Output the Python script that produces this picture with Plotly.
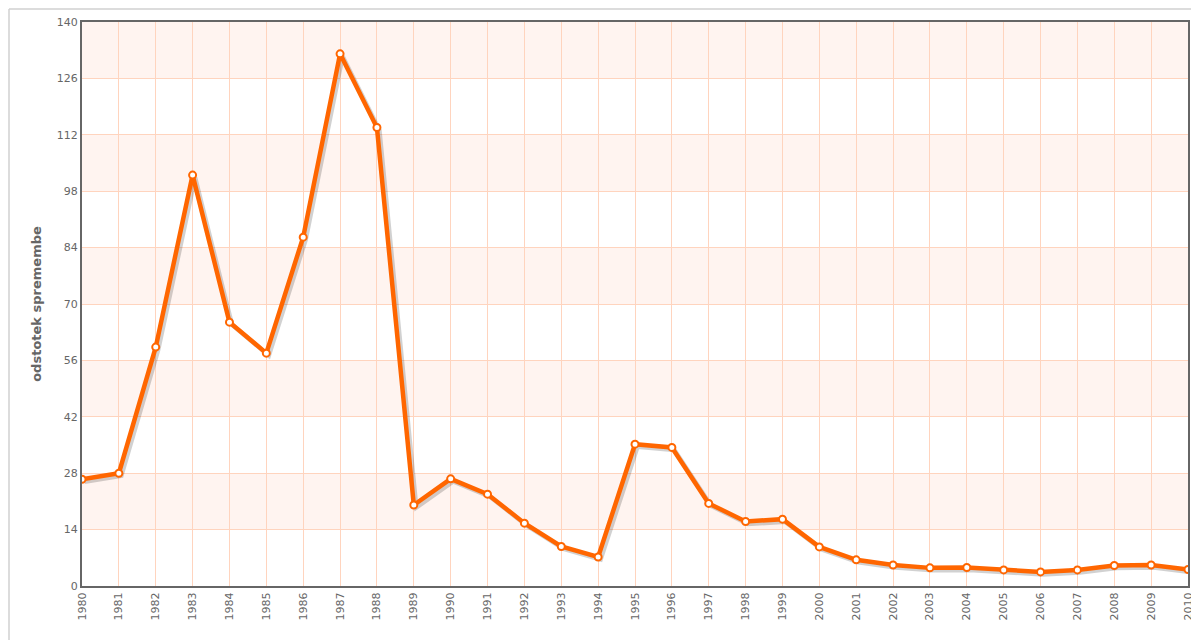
import plotly.graph_objects as go

years = list(range(1980, 2011))
values = [26.5, 28.0, 59.3, 102.0, 65.5, 57.8, 86.6, 132.1, 113.8, 20.1,
          26.6, 22.8, 15.6, 9.8, 7.2, 35.2, 34.4, 20.5, 16.0, 16.6,
          9.7, 6.5, 5.2, 4.5, 4.6, 4.0, 3.5, 4.0, 5.1, 5.2, 4.1]
y_ticks = [0, 14, 28, 42, 56, 70, 84, 98, 112, 126, 140]
y_title = "odstotek spremembe"

ORANGE = "#ff6600"
GRID = "#ffd4be"
BAND = "#fff4f0"
AXIS = "#666666"

W, H = 1191, 640
ML, MR, MT, MB = 82, 3, 22, 54
PW, PH = W - ML - MR, H - MT - MB
X0, X1 = years[0], years[-1]
Y0, Y1 = y_ticks[0], y_ticks[-1]
SH = 2.5  # shadow offset in px
dx = SH * (X1 - X0) / PW
dy = SH * (Y1 - Y0) / PH

fig = go.Figure()

shapes = []
for i in range(1, len(y_ticks) - 1, 2):
    shapes.append(dict(type="rect", xref="paper", yref="y", x0=0, x1=1,
                       y0=y_ticks[i], y1=y_ticks[i + 1], fillcolor=BAND,
                       line=dict(width=0), layer="below"))
fx = -(ML - 9) / PW
fy = 1 + (MT - 9) / PH
shapes.append(dict(type="line", xref="paper", yref="paper", x0=fx, x1=1.02,
                   y0=fy, y1=fy, line=dict(color="#d0d0d0", width=1.5)))
shapes.append(dict(type="line", xref="paper", yref="paper", x0=fx, x1=fx,
                   y0=fy, y1=-0.2, line=dict(color="#d0d0d0", width=1.5)))

# shadow
fig.add_trace(go.Scatter(
    x=years, y=values, mode="lines", xaxis="x2", yaxis="y2",
    line=dict(color="rgba(0,0,0,0.18)", width=4.5),
    hoverinfo="skip", showlegend=False,
))
fig.add_trace(go.Scatter(
    x=years, y=values, mode="lines+markers", xaxis="x3", yaxis="y3",
    line=dict(color=ORANGE, width=4.5),
    marker=dict(size=7, color="white", line=dict(color=ORANGE, width=2)),
    hoverinfo="x+y", showlegend=False,
))

hidden = dict(showgrid=False, showticklabels=False, showline=False,
              zeroline=False, ticks="", automargin=False)

fig.update_layout(
    width=W, height=H,
    margin=dict(l=ML, r=MR, t=MT, b=MB),
    paper_bgcolor="white", plot_bgcolor="white",
    shapes=shapes,
    font=dict(family="DejaVu Sans", color=AXIS, size=11),
    xaxis=dict(
        range=[X0, X1], tickmode="array", tickvals=years,
        ticktext=[str(y) for y in years], tickangle=-90,
        showgrid=True, gridcolor=GRID, gridwidth=1,
        showline=True, linecolor=AXIS, linewidth=2, mirror=True,
        ticks="", zeroline=False, tickfont=dict(size=11, color=AXIS),
        ticklabeloverflow="allow", automargin=False,
    ),
    yaxis=dict(
        range=[Y0, Y1], tickmode="array", tickvals=y_ticks,
        showgrid=True, gridcolor=GRID, gridwidth=1,
        showline=True, linecolor=AXIS, linewidth=2, mirror=True,
        ticks="", zeroline=False, tickfont=dict(size=11, color=AXIS),
        automargin=False,
        title=dict(text="<b>" + y_title + "</b>", font=dict(size=13, color=AXIS),
                   standoff=12),
    ),
    xaxis2=dict(range=[X0 - dx, X1 - dx], overlaying="x", **hidden),
    yaxis2=dict(range=[Y0 + dy, Y1 + dy], overlaying="y", **hidden),
    xaxis3=dict(range=[X0, X1], overlaying="x", **hidden),
    yaxis3=dict(range=[Y0, Y1], overlaying="y", **hidden),
)

fig.write_html(
    "out.html",
    config={"displayModeBar": False},
    post_script="document.body.style.margin='0';"
                "document.documentElement.style.overflow='hidden';",
)
